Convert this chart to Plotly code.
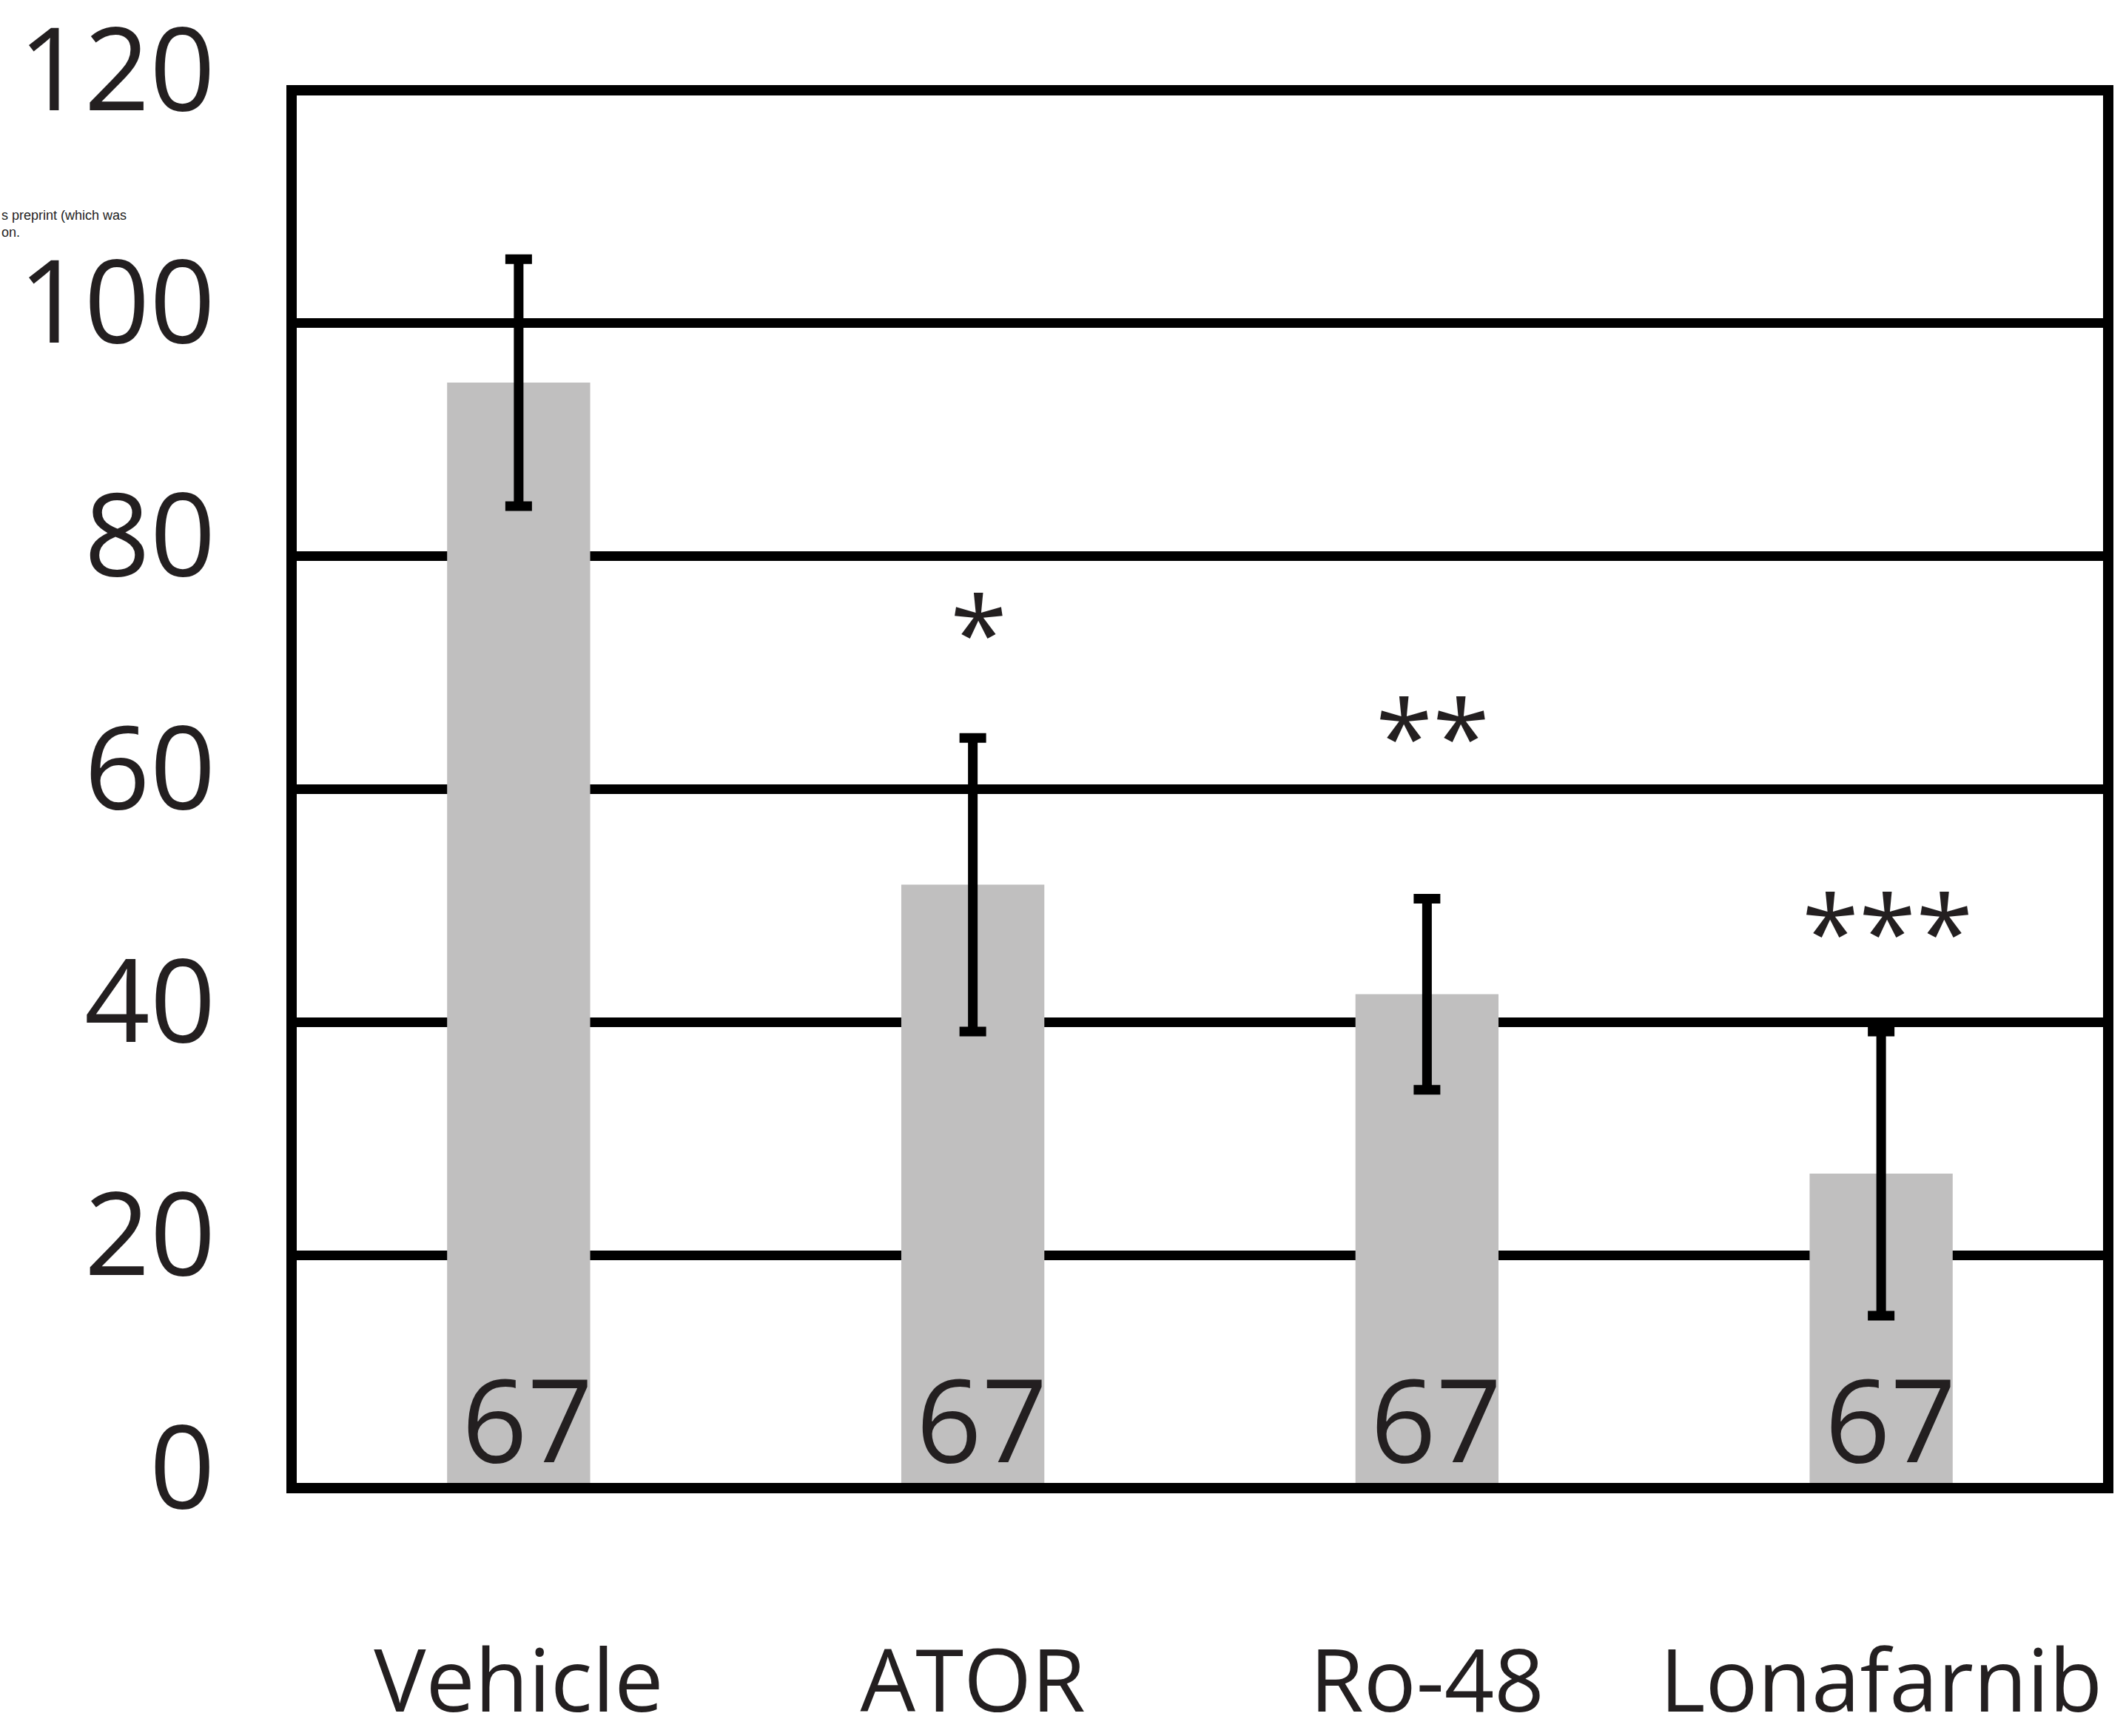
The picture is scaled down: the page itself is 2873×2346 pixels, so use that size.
import plotly.graph_objects as go

# ---- data ----
categories = ["Vehicle", "ATOR", "Ro-48", "Lonafarnib"]
means = [94.9, 51.8, 42.4, 27.0]
errors = [10.6, 12.6, 8.2, 12.2]
n_labels = ["67", "67", "67", "67"]
significance = ["", "*", "**", "***"]
y_ticks = [0, 20, 40, 60, 80, 100, 120]
y_tick_labels = ["0", "20", "40", "60", "80", "100", "120"]

# ---- style / layout constants ----
W, H = 2873, 2346
L, R, T, B = 394, 24, 122, 335
FONT = "Open Sans"
TXT = "#231f20"
sig_y = {"ATOR": 73.6, "Ro-48": 64.7, "Lonafarnib": 47.9}

fig = go.Figure()
fig.add_trace(go.Bar(
    x=categories, y=means, width=0.315,
    marker=dict(color="#c0bfbf", line=dict(width=0)),
    error_y=dict(type="data", array=errors, visible=True,
                 color="#000000", thickness=13, width=18),
    hoverinfo="skip",
))

pw, ph = W - L - R, H - T - B
annotations = []
# y-axis tick labels (placed on the y scale, nudged slightly above each gridline)
for v, t in zip(y_ticks, y_tick_labels):
    annotations.append(dict(x=-101 / pw, y=v, xref="paper", yref="y", text=t, showarrow=False,
                            xanchor="right", yanchor="middle", yshift=34,
                            font=dict(family=FONT, size=155, color=TXT)))
for c, n in zip(categories, n_labels):
    annotations.append(dict(x=c, y=0, xref="x", yref="y", text=n, showarrow=False,
                            yanchor="middle", xanchor="center", yshift=96, xshift=12,
                            font=dict(family=FONT, size=155, color=TXT)))
for c, s in zip(categories, significance):
    if s:
        annotations.append(dict(x=c, y=sig_y[c], xref="x", yref="y", text=s, showarrow=False,
                                yanchor="middle", xanchor="center", xshift=8,
                                font=dict(family=FONT, size=140, color=TXT)))

# cropped preprint notice at the top-left corner
annotations.append(dict(x=-L / pw, y=(H - B - 302) / ph, xref="paper", yref="paper",
                        text="s preprint (which was<br>on.", showarrow=False, xanchor="left",
                        align="left", yanchor="middle",
                        font=dict(family="Liberation Sans", size=18, color="#222")))

fig.update_layout(
    width=W, height=H,
    margin=dict(l=L, r=R, t=T, b=B, pad=0, autoexpand=False),
    paper_bgcolor="white", plot_bgcolor="white",
    showlegend=False,
    annotations=annotations,
    shapes=[dict(type="rect", xref="paper", yref="paper", x0=0, x1=1, y0=0, y1=1,
                 line=dict(color="#000000", width=14), layer="above")],
    xaxis=dict(range=[-0.5, 3.5], showgrid=False, zeroline=False, showline=False,
               ticks="", tickfont=dict(family=FONT, size=118, color=TXT),
               ticklabelstandoff=183, automargin=False),
    yaxis=dict(range=[0, 120], tickvals=y_ticks, showgrid=True, gridcolor="#000000",
               gridwidth=13, zeroline=False, showline=False, ticks="",
               showticklabels=False, automargin=False),
)

fig.write_html("out.html")
